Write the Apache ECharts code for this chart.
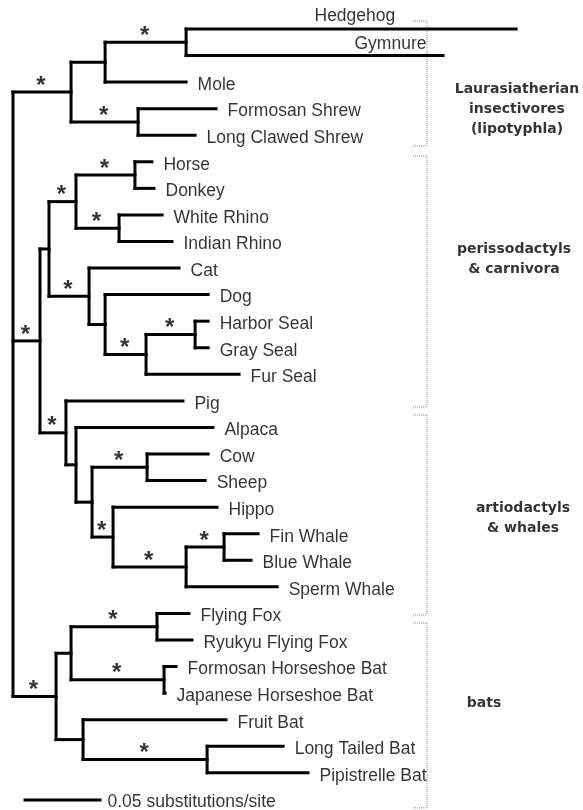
<!DOCTYPE html>
<html><head><meta charset="utf-8">
<script src="https://cdn.jsdelivr.net/npm/echarts@6/dist/echarts.min.js"></script>
<style>html,body{margin:0;padding:0;background:#fff}#c{width:583px;height:810px}</style>
</head><body><div id="c"></div>
<script>
// ---------------- DATA ----------------
// internal nodes (parents listed before children); branch lengths in substitutions/site
const nodeNames  = ['root','A','B','C','D','E','F','G','H','I','J','K','L','M','N','O','P','Q','R','S','T','U','V','W','X','Y','Z'];
const nodeParent = [null,'root','A','B','A','root','E','F','G','G','F','J','K','L','E','N','O','P','P','R','S','root','U','V','V','U','Y'];
const nodeBranch = [0,0.0387,0.0227,0.0540,0.0447,0.0180,0.0060,0.0180,0.0393,0.0287,0.0267,0.0107,0.0273,0.0327,0.0173,0.0067,0.0107,0.0367,0.0140,0.0487,0.0253,0.0287,0.0100,0.0573,0.0620,0.0180,0.0827];
// nodes with an asterisk (strong support)
const supportedNodes = ['A','C','D','E','G','H','I','J','L','M','N','Q','R','S','T','U','W','X','Z'];

// leaves, top to bottom
const leafNames = ['Hedgehog','Gymnure','Mole','Formosan Shrew','Long Clawed Shrew','Horse','Donkey','White Rhino','Indian Rhino','Cat','Dog','Harbor Seal','Gray Seal','Fur Seal','Pig','Alpaca','Cow','Sheep','Hippo','Fin Whale','Blue Whale','Sperm Whale','Flying Fox','Ryukyu Flying Fox','Formosan Horseshoe Bat','Japanese Horseshoe Bat','Fruit Bat','Long Tailed Bat','Pipistrelle Bat'];
const leafParent = ['C','C','B','D','D','H','H','I','I','J','K','M','M','L','N','O','Q','Q','R','T','T','S','W','W','X','X','Y','Z','Z'];
const leafBranch = [0.2200,0.1713,0.0540,0.0520,0.0380,0.0113,0.0127,0.0287,0.0353,0.0600,0.0687,0.0087,0.0087,0.0620,0.0780,0.0913,0.0407,0.0387,0.0693,0.0227,0.0180,0.0607,0.0213,0.0233,0.0080,0.0007,0.0953,0.0507,0.0673];

// clade groups
const groupLabels    = ['Laurasiatherian\ninsectivores\n(lipotyphla)','perissodactyls\n& carnivora','artiodactyls\n& whales','bats'];
const groupFirstLeaf = [0,5,14,22];
const groupLastLeaf  = [4,13,21,28];

const scaleBarLength = 0.05;
const scaleBarLabel  = '0.05 substitutions/site';

// ---------------- LAYOUT ----------------
const PXU = 1500, LEFT = 13;                  // pixels per substitution unit, root x
const px2x = p => (p - LEFT) / PXU;
const bracketTop    = [-0.30, 4.78, 14.53, 22.36];
const bracketBottom = [ 4.40, 14.23, 22.06, 29.32];
const bracketX = px2x(427), bracketTickX = px2x(413);
const groupLabelPos = [[px2x(517),3.01],[px2x(514),8.68],[px2x(523),18.44],[px2x(484),25.4]];
const labelOverride = { 'Hedgehog': {x: px2x(314), dy: -13}, 'Gymnure': {x: px2x(354), dy: -11} };
const scaleRow = 29.02, scaleStart = px2x(25);

// ---------------- TREE GEOMETRY ----------------
const nX = {}, nY = {}, kids = {};
nodeNames.forEach((n, i) => {
  nX[n] = nodeParent[i] ? nX[nodeParent[i]] + nodeBranch[i] : 0;
  kids[n] = [];
});
nodeNames.forEach((n, i) => { if (nodeParent[i]) kids[nodeParent[i]].push({type:'node', name:n}); });
leafNames.forEach((l, i) => kids[leafParent[i]].push({type:'leaf', idx:i}));
const span = {};
for (let i = nodeNames.length - 1; i >= 0; i--) {
  const n = nodeNames[i];
  const ys = kids[n].map(k => k.type === 'leaf' ? k.idx : nY[k.name]);
  const lo = Math.min(...ys), hi = Math.max(...ys);
  span[n] = [lo, hi];
  nY[n] = (lo + hi) / 2;
}
const segs = [];
nodeNames.forEach((n, i) => {
  segs.push([nX[n], span[n][0], nX[n], span[n][1]]);
  if (nodeParent[i]) segs.push([nX[nodeParent[i]], nY[n], nX[n], nY[n]]);
});
const leafX = leafNames.map((l, i) => nX[leafParent[i]] + leafBranch[i]);
leafNames.forEach((l, i) => segs.push([nX[leafParent[i]], i, leafX[i], i]));
segs.push([scaleStart, scaleRow, scaleStart + scaleBarLength, scaleRow]);

const dotted = [];
bracketTop.forEach((t, i) => {
  const b = bracketBottom[i];
  dotted.push([bracketX, t, bracketX, b]);
  dotted.push([bracketTickX, t, bracketX, t]);
  dotted.push([bracketTickX, b, bracketX, b]);
});

const leafLabelData = leafNames.map((l, i) => {
  const o = labelOverride[l];
  if (o) return { value: [o.x, i], name: l, label: { distance: 0, offset: [0, o.dy] } };
  return { value: [leafX[i], i], name: l };
});
const starData = supportedNodes.map(n => {
  const i = nodeNames.indexOf(n);
  return [(nX[nodeParent[i]] + nX[n]) / 2, nY[n]];
});
const groupData = groupLabels.map((g, i) => ({ value: groupLabelPos[i], name: g }));

function segRender(color, width, dash, cap) {
  return function (params, api) {
    const p1 = api.coord([api.value(0), api.value(1)]);
    const p2 = api.coord([api.value(2), api.value(3)]);
    return { type: 'line', shape: { x1: p1[0], y1: p1[1], x2: p2[0], y2: p2[1] },
      style: { stroke: color, lineWidth: width, lineDash: dash, lineCap: cap } };
  };
}

const chart = echarts.init(document.getElementById('c'), null, { renderer: 'canvas' });
chart.setOption({
  animation: false,
  backgroundColor: '#fff',
  grid: { left: LEFT, right: 0, top: 0, bottom: 0 },
  xAxis: { type: 'value', min: 0, max: 0.38, show: false },
  yAxis: { type: 'value', min: -1.09, max: 29.4, inverse: true, show: false },
  series: [
    { type: 'custom', renderItem: segRender('#888', 1, [1, 1], 'butt'), data: dotted, silent: true },
    { type: 'custom', renderItem: segRender('#000', 3, null, 'square'), data: segs, silent: true },
    { type: 'scatter', symbolSize: 1, itemStyle: { color: 'rgba(0,0,0,0)' }, data: leafLabelData, silent: true,
      label: { show: true, position: 'right', distance: 11, offset: [0, 3], formatter: p => p.name,
        color: '#000', fontSize: 17.5, fontFamily: 'Liberation Sans' } },
    { type: 'scatter', symbolSize: 1, itemStyle: { color: 'rgba(0,0,0,0)' }, data: starData, silent: true,
      label: { show: true, position: 'inside', offset: [-1, -6], formatter: '*',
        color: '#000', fontSize: 24, fontWeight: 'bold', fontFamily: 'Liberation Sans' } },
    { type: 'scatter', symbolSize: 1, itemStyle: { color: 'rgba(0,0,0,0)' }, data: groupData, silent: true,
      label: { show: true, position: 'inside', formatter: p => p.name, align: 'center',
        color: '#000', fontSize: 14, fontWeight: 'bold', lineHeight: 20, fontFamily: 'DejaVu Sans' } },
    { type: 'scatter', symbolSize: 1, itemStyle: { color: 'rgba(0,0,0,0)' },
      data: [{ value: [scaleStart + scaleBarLength, scaleRow], name: scaleBarLabel }], silent: true,
      label: { show: true, position: 'right', distance: 7, offset: [0, 2], formatter: p => p.name,
        color: '#000', fontSize: 17.5, fontFamily: 'Liberation Sans' } }
  ]
});
</script></body></html>
